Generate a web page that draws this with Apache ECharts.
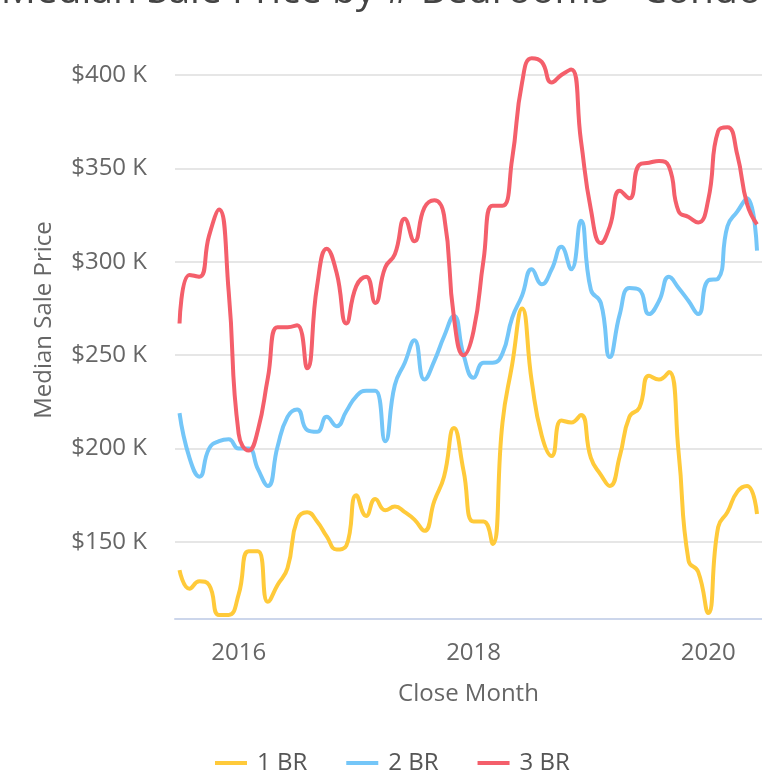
<!DOCTYPE html>
<html><head><meta charset="utf-8">
<script src="https://cdn.jsdelivr.net/npm/echarts@6/dist/echarts.min.js"></script>
<style>html,body{margin:0;padding:0;background:#fff}#c{width:762px;height:782px}</style>
</head><body><div id="c"></div>
<script>
const months = [
 '2015-07-01','2015-08-01','2015-09-01','2015-10-01','2015-11-01','2015-12-01',
 '2016-01-01','2016-02-01','2016-03-01','2016-04-01','2016-05-01','2016-06-01',
 '2016-07-01','2016-08-01','2016-09-01','2016-10-01','2016-11-01','2016-12-01',
 '2017-01-01','2017-02-01','2017-03-01','2017-04-01','2017-05-01','2017-06-01',
 '2017-07-01','2017-08-01','2017-09-01','2017-10-01','2017-11-01','2017-12-01',
 '2018-01-01','2018-02-01','2018-03-01','2018-04-01','2018-05-01','2018-06-01',
 '2018-07-01','2018-08-01','2018-09-01','2018-10-01','2018-11-01','2018-12-01',
 '2019-01-01','2019-02-01','2019-03-01','2019-04-01','2019-05-01','2019-06-01',
 '2019-07-01','2019-08-01','2019-09-01','2019-10-01','2019-11-01','2019-12-01',
 '2020-01-01','2020-02-01','2020-03-01','2020-04-01','2020-05-01','2020-06-01'
];
// median sale price, thousands of dollars
const br1 = [135,125,129,127,111,111,122,145,145,118,127,136,162,166,161,153,146,148,175,164,173,167,169,166,162,156,172,185,211,188,161,161,149,214,245,275,236,207,196,215,214,218,195,186,180,196,217,222,239,237,241,198,140,134,112,158,166,177,180,165];
const br2 = [219,195,185,200,204,205,200,200,189,180,201,217,221,210,209,217,212,220,228,231,231,204,234,246,258,237,247,260,271,250,238,246,246,251,270,282,296,288,296,308,296,322,285,278,249,272,286,285,272,279,292,286,279,272,290,291,319,327,334,306];
const br3 = [267,293,292,314,328,284,208,199,210,238,265,265,266,243,287,307,294,267,287,292,278,297,304,323,311,329,333,325,270,250,263,301,330,330,355,396,409,407,396,400,403,365,328,310,319,338,334,352,353,354,351,327,324,321,333,370,372,357,331,320];
const seriesNames = ['1 BR','2 BR','3 BR'];
const seriesColors = ['#FFCA3A','#74C6F8','#F45F6B'];
const yTicks = [150,200,250,300,350,400];
const xTickYears = [2016,2018,2020];

const font = "'Open Sans', sans-serif";
const chart = echarts.init(document.getElementById('c'), null, {renderer:'canvas'});
const allData = [br1, br2, br3];
chart.setOption({
  animation: false,
  backgroundColor: '#ffffff',
  title: {
    text: 'Median Sale Price by # Bedrooms - Condo',
    left: 'center', top: -28, padding: [0,0,0,22],
    textStyle: {fontFamily: font, fontSize: 39, fontWeight: 'normal', color: '#444444'}
  },
  legend: {
    data: seriesNames, left: 215, top: 751, padding: 0,
    icon: 'rect', itemWidth: 32, itemHeight: 4, itemGap: 39,
    textStyle: {fontFamily: font, fontSize: 24, color: '#555555', padding: [0,0,0,5]}
  },
  grid: {left: 175, right: -3, top: 21, bottom: 163, containLabel: false},
  xAxis: {
    type: 'time',
    min: new Date(2015,5,16,22).getTime(),
    max: new Date(2020,5,16,12).getTime(),
    axisLine: {show: true, lineStyle: {color: '#ccd6eb', width: 2}},
    axisTick: {show: false},
    splitLine: {show: false},
    axisLabel: {
      fontFamily: font, fontSize: 24, color: '#666666', margin: 22,
      formatter: function (v) {
        const d = new Date(v);
        if (d.getMonth() === 0 && d.getDate() === 1 && xTickYears.indexOf(d.getFullYear()) >= 0) return String(d.getFullYear());
        return '';
      }
    },
    name: 'Close Month', nameLocation: 'middle', nameGap: 63,
    nameTextStyle: {fontFamily: font, fontSize: 24, color: '#666666'}
  },
  yAxis: {
    type: 'value', min: 108.8, max: 428.9,
    axisLine: {show: false}, axisTick: {show: false},
    splitLine: {show: true, showMinLine: false, showMaxLine: false, lineStyle: {color: '#e6e6e6', width: 2}},
    axisLabel: {
      fontFamily: font, fontSize: 24, color: '#666666', margin: 28,
      showMinLabel: false, showMaxLabel: false,
      formatter: function (v) { return yTicks.indexOf(v) >= 0 ? '$' + v + ' K' : ''; }
    },
    name: 'Median Sale Price', nameLocation: 'middle', nameGap: 119,
    nameTextStyle: {fontFamily: font, fontSize: 24, color: '#666666'}
  },
  series: seriesNames.map(function (n, k) {
    return {
      name: n, type: 'line', smooth: true, symbol: 'none', showSymbol: false,
      color: seriesColors[k],
      lineStyle: {width: 4, color: seriesColors[k]},
      data: months.map(function (m, i) { return [m, allData[k][i]]; })
    };
  })
});
</script></body></html>
